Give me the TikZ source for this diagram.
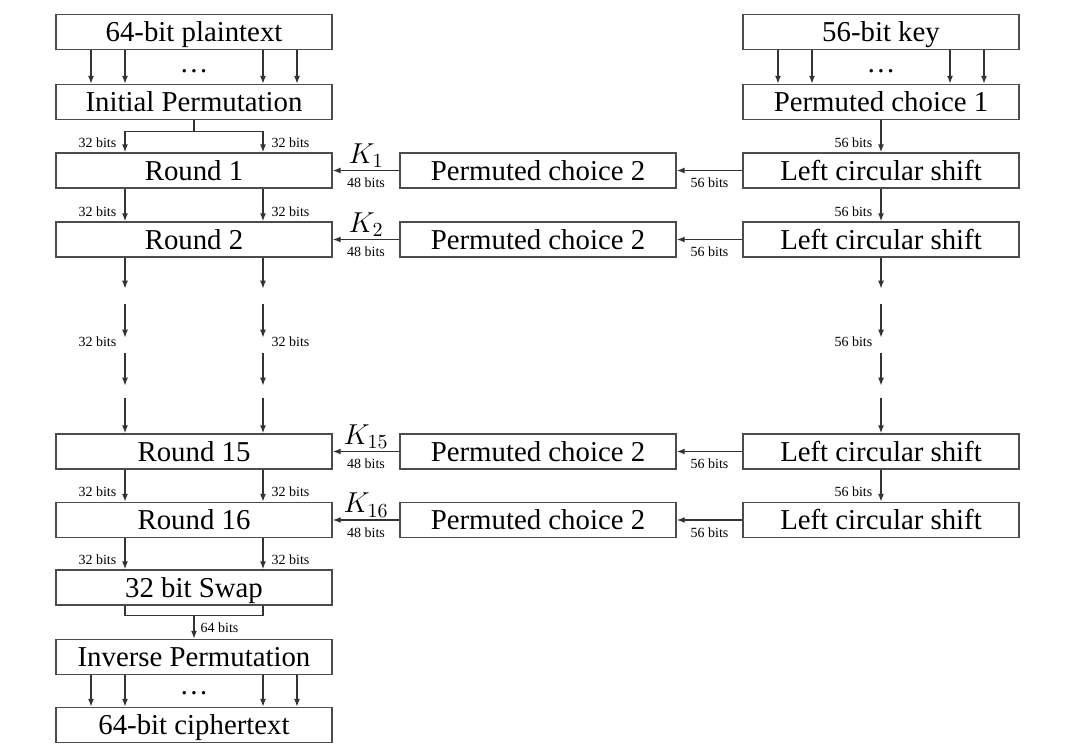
\documentclass[tikz,border=0pt]{standalone}
\usepackage[no-math]{fontspec}
\setmainfont{Liberation Serif}
\usetikzlibrary{arrows.meta}
\begin{document}
\begin{tikzpicture}[x=0.5pt,y=-0.5pt,
  line width=0.7pt, draw=black!80,
  box/.style={draw=black!70, line width=0.7pt, minimum width=138pt, minimum height=17.5pt,
    inner sep=0pt, text height=11.5pt, text depth=2pt, font=\fontsize{14.4}{16}\selectfont},
  lbl/.style={inner sep=0pt, font=\fontsize{7}{8}\selectfont},
  dotsnode/.style={inner sep=0pt, font=\fontsize{14.4}{16}\selectfont},
  arr/.style={-{Latex[length=4pt,width=3pt]}},
  keylbl/.style={inner sep=1pt, font=\fontsize{14.4}{16}\selectfont}]
\useasboundingbox (0,0) rectangle (1065,744);

% data path
\node[box] (pt)  at (194,32)    {64-bit plaintext};
\node[box] (ip)  at (194,102)   {Initial Permutation};
\node[box] (r1)  at (194,170.5) {Round 1};
\node[box] (r2)  at (194,239.5) {Round 2};
\node[box] (r15) at (194,451.5) {Round 15};
\node[box] (r16) at (194,520)   {Round 16};
\node[box] (sw)  at (194,587.5) {32 bit Swap};
\node[box] (inv) at (194,657)   {Inverse Permutation};
\node[box] (ct)  at (194,725)   {64-bit ciphertext};

% key schedule
\node[box] (key)  at (881,32)    {56-bit key};
\node[box] (pc1)  at (881,102)   {Permuted choice 1};
\node[box] (ls1)  at (881,170.5) {Left circular shift};
\node[box] (ls2)  at (881,239.5) {Left circular shift};
\node[box] (ls15) at (881,451.5) {Left circular shift};
\node[box] (ls16) at (881,520)   {Left circular shift};

\node[box] (pa) at (538,170.5) {Permuted choice 2};
\node[box] (pb) at (538,239.5) {Permuted choice 2};
\node[box] (pc) at (538,451.5) {Permuted choice 2};
\node[box] (pd) at (538,520)   {Permuted choice 2};

% fan-out arrows with ellipses
\foreach \a/\b in {pt/ip, inv/ct, key/pc1}{
  \foreach \dx in {-51.5,-34.5,34.5,51.5}
    \draw[arr] ([xshift=\dx pt]\a.south) -- ([xshift=\dx pt]\b.north);
}
\node[dotsnode] (d1) at (194,71) {\dots};
\node[dotsnode] (d2) at (194,693) {\dots};
\node[dotsnode] (d3) at (881,71) {\dots};

% split after initial permutation
\draw[arr] (ip.south) -- ++(0,-5.5pt) -| ([xshift=-34.5pt]r1.north);
\draw[arr] (ip.south) -- ++(0,-5.5pt) -| ([xshift=34.5pt]r1.north);

% round to round, 32-bit halves
\foreach \b in {r1, r2, r16, sw}{
  \node[lbl, anchor=east] at ([xshift=-38.5pt,yshift=5pt]\b.north) {32 bits};
  \node[lbl, anchor=west] at ([xshift=38.5pt,yshift=5pt]\b.north) {32 bits};
}
\foreach \a/\b in {r1/r2, r15/r16, r16/sw}{
  \draw[arr] ([xshift=-34.5pt]\a.south) -- ([xshift=-34.5pt]\b.north);
  \draw[arr] ([xshift=34.5pt]\a.south) -- ([xshift=34.5pt]\b.north);
}

% elided rounds
\foreach \dx in {-34.5,34.5}{
  \draw[arr] ([xshift=\dx pt]r2.south) -- ++(0,-15.5pt);
  \draw[arr] ([xshift=\dx pt,yshift=-23pt]r2.south) -- ++(0,-17pt);
  \draw[arr] ([xshift=\dx pt,yshift=-47.5pt]r2.south) -- ++(0,-16.5pt);
  \draw[arr] ([xshift=\dx pt,yshift=17.5pt]r15.north) -- ([xshift=\dx pt]r15.north);
}
\node[lbl, anchor=east] (l32a) at ([xshift=-38.5pt,yshift=-42pt]r2.south) {32 bits};
\node[lbl, anchor=west] (l32b) at ([xshift=38.5pt,yshift=-42pt]r2.south) {32 bits};

\draw[arr] (ls2.south) -- ++(0,-15.5pt);
\draw[arr] ([yshift=-23pt]ls2.south) -- ++(0,-17pt);
\draw[arr] ([yshift=-47.5pt]ls2.south) -- ++(0,-16.5pt);
\draw[arr] ([yshift=17.5pt]ls15.north) -- (ls15.north);
\node[lbl, anchor=east] (l56m) at ([xshift=-4pt,yshift=-42pt]ls2.south) {56 bits};

% key schedule vertical
\foreach \a/\b in {pc1/ls1, ls1/ls2, ls15/ls16}{
  \draw[arr] (\a.south) -- (\b.north);
  \node[lbl, anchor=east] at ([xshift=-4pt,yshift=5pt]\b.north) {56 bits};
}

% subkeys
\foreach \l/\p/\r/\k in {ls1/pa/r1/1, ls2/pb/r2/2, ls15/pc/r15/15, ls16/pd/r16/16}{
  \draw[arr] (\l.west) -- (\p.east) node[midway, below, lbl, yshift=-3.5pt] {56 bits};
  \draw[arr] (\p.west) -- (\r.east)
    node[midway, above, keylbl] {$K_{\k}$}
    node[midway, below, lbl, yshift=-3.5pt] {48 bits};
}

% swap and merge
\draw ([xshift=-34.5pt]sw.south) -- ++(0,-5pt) -| ([xshift=34.5pt]sw.south);
\draw[arr] ([yshift=-5pt]sw.south) -- (inv.north)
  node[pos=0.5, right, lbl, xshift=3pt] {64 bits};
\end{tikzpicture}
\end{document}
